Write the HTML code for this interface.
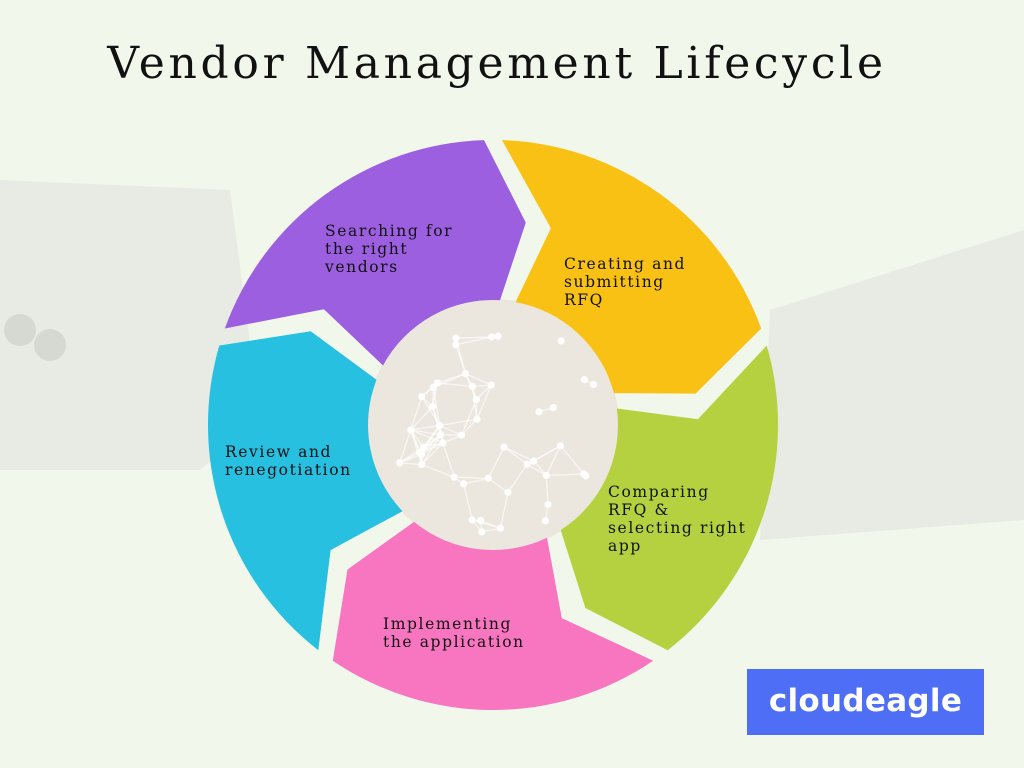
<!DOCTYPE html>
<html><head><meta charset="utf-8">
<style>
html,body{margin:0;padding:0;}
body{width:1024px;height:768px;overflow:hidden;background:#f2f7ec;position:relative;font-family:"DejaVu Serif","Liberation Serif",serif;}
.t{position:absolute;font-size:15.5px;line-height:18px;letter-spacing:1.6px;color:#111;white-space:nowrap;}
h1{position:absolute;left:0;width:994px;top:38px;margin:0;text-align:center;font-weight:normal;font-size:44px;letter-spacing:3.7px;color:#111;}
.logo{position:absolute;left:747px;top:669px;width:237px;height:66px;background:#4d6ef5;color:#fff;font-family:"DejaVu Sans","Liberation Sans",sans-serif;font-weight:bold;font-size:31px;line-height:64px;text-align:center;letter-spacing:0.3px;}
</style></head><body>
<svg width="1024" height="768" style="position:absolute;left:0;top:0">
  <path d="M0 180 L230 190 L260 420 L200 470 L0 470 Z" fill="#e3e6df" opacity="0.7"/>
  <path d="M1024 230 L770 310 L760 540 L1024 520 Z" fill="#e3e6df" opacity="0.7"/>
  <circle cx="20" cy="330" r="16" fill="#d6d9d2"/>
  <circle cx="50" cy="345" r="16" fill="#d6d9d2"/>
  <circle cx="493" cy="425" r="126" fill="#ece7de"/>
  <g id="net" stroke="#ffffff" stroke-width="1.2" fill="#ffffff"></g>
  <g id="segs"></g>
</svg>
<h1>Vendor Management Lifecycle</h1>
<div class="t" style="left:325px;top:222px">Searching for<br>the right<br>vendors</div>
<div class="t" style="left:564px;top:255px">Creating and<br>submitting<br>RFQ</div>
<div class="t" style="left:608px;top:483px">Comparing<br>RFQ &amp;<br>selecting right<br>app</div>
<div class="t" style="left:383px;top:615px">Implementing<br>the application</div>
<div class="t" style="left:225px;top:443px">Review and<br>renegotiation</div>
<div class="logo">cloudeagle</div>
<script>
(function(){
var cx=493,cy=425,ro=285,ri=125,rm=205;
function P(a,r){var t=(a-90)*Math.PI/180;return (cx+r*Math.cos(t)).toFixed(1)+" "+(cy+r*Math.sin(t)).toFixed(1);}
var cols=["#9b5fe0","#f8c114","#b5d13f","#f875c0","#27c0e0"];
var starts=[-72,0,72,144,216];
var g=1.8,dm=11,di=5;
var out="";
for(var i=0;i<5;i++){
 var a0=starts[i]+g,a1=starts[i]+72-g;
 var d="M"+P(a0,ro)+" A"+ro+" "+ro+" 0 0 1 "+P(a1,ro)+" L"+P(a1+dm,rm)+" L"+P(a1+di,ri)+" A"+ri+" "+ri+" 0 0 0 "+P(a0+di+2*g,ri)+" L"+P(a0+dm+2*g,rm)+" Z";
 out+='<path d="'+d+'" fill="'+cols[i]+'"/>';
}
document.getElementById("segs").innerHTML=out;
var pts=[],s=7,n="";
for(var k=0;k<45;k++){s=(s*9301+49297)%233280;var a=s/233280*6.283;s=(s*9301+49297)%233280;var r=Math.sqrt(s/233280)*110;pts.push([cx+r*Math.cos(a),cy+r*Math.sin(a)]);}
for(var k=0;k<pts.length;k++){n+='<circle cx="'+pts[k][0]+'" cy="'+pts[k][1]+'" r="3"/>';for(var j=k+1;j<pts.length;j++){var dx=pts[k][0]-pts[j][0],dy=pts[k][1]-pts[j][1];if(dx*dx+dy*dy<1500)n+='<line x1="'+pts[k][0]+'" y1="'+pts[k][1]+'" x2="'+pts[j][0]+'" y2="'+pts[j][1]+'" opacity="0.7"/>';}}
document.getElementById("net").innerHTML=n;
})();
</script>
</body></html>
